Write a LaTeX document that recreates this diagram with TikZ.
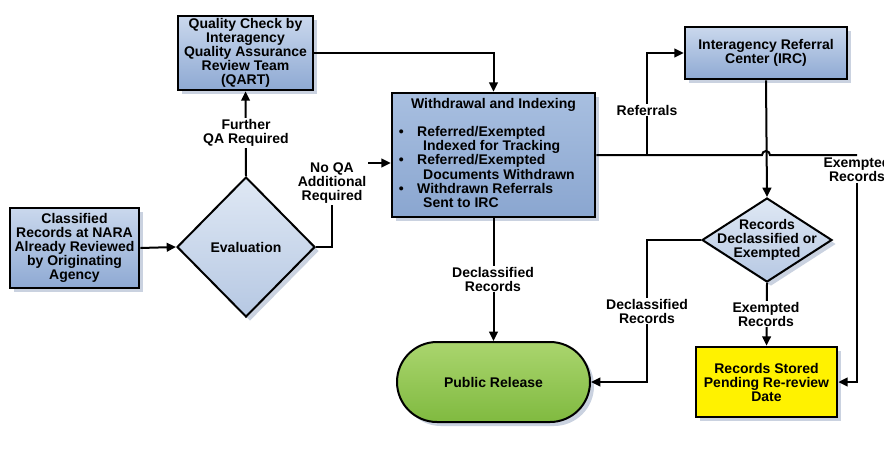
\documentclass[tikz,border=0pt]{standalone}
\usepackage{fontspec}
\setmainfont{Liberation Sans}
\usetikzlibrary{arrows.meta,shapes.geometric,shapes.misc,shadows}

\definecolor{boxtop}{RGB}{202,216,237}
\definecolor{boxbot}{RGB}{142,169,211}
\definecolor{wdtop}{RGB}{168,191,224}
\definecolor{wdbot}{RGB}{138,166,208}
\definecolor{dectop}{RGB}{223,232,244}
\definecolor{decbot}{RGB}{182,200,227}
\definecolor{reltop}{RGB}{170,213,110}
\definecolor{relbot}{RGB}{128,186,64}
\definecolor{shadowgrey}{RGB}{196,205,221}

\tikzset{every picture/.style={line width=0.75pt}}
\tikzset{
  txt/.style={font=\bfseries\fontsize{10.5}{10.5}\selectfont, align=center},
  shadowed/.style={drop shadow={shadow xshift=3pt, shadow yshift=-3pt, fill=shadowgrey, opacity=0.9}},
  box/.style={txt, shadowed, draw=black, line width=2pt, inner sep=0pt, top color=boxtop, bottom color=boxbot},
  wdbox/.style={box, top color=wdtop, bottom color=wdbot},
  decision/.style={txt, shadowed, diamond, draw=black, line width=1.5pt, inner sep=0pt, top color=dectop, bottom color=decbot},
  terminal/.style={txt, shadowed, rounded rectangle, draw=black, line width=1.5pt, inner sep=0pt, top color=reltop, bottom color=relbot},
  stored/.style={txt, shadowed, draw=black, line width=2pt, inner sep=0pt, fill=yellow},
  line/.style={line width=1.5pt},
  flow/.style={line width=1.5pt, -{Triangle[length=7pt,width=6.5pt]}},
  lbl/.style={txt, fill=white, inner sep=1pt}
}

\begin{document}
\begin{tikzpicture}[x=0.75pt,y=0.75pt,yscale=-1,xscale=1]
\useasboundingbox (0,0) rectangle (884,468);
\clip (0,0) rectangle (884,468);

%Shape: Rectangle [Classified Records]
\node[box, minimum width=96.75pt, minimum height=60pt] (classified) at (74.5,248)
  {Classified\\Records at NARA\\Already Reviewed\\by Originating\\Agency};
%Shape: Diamond [Evaluation]
\node[decision, minimum width=103.5pt, minimum height=105pt] (eval) at (246,247) {Evaluation};
%Shape: Rectangle [QART]
\node[box, minimum width=101.25pt, minimum height=55.5pt] (qart) at (245.5,53)
  {Quality Check by\\Interagency\\Quality Assurance\\Review Team\\(QART)};
%Shape: Rectangle [Withdrawal and Indexing]
\node[wdbox, minimum width=152.25pt, minimum height=93pt] (withdraw) at (493.5,155)
  {Withdrawal and Indexing\\[10.5pt]
   \begin{tabular}[t]{@{}l@{\hspace{10pt}}l@{\hspace{10pt}}}
   \textbullet & Referred/Exempted\\
               & \hspace{4.5pt}Indexed for Tracking\\
   \textbullet & Referred/Exempted\\
               & \hspace{4.5pt}Documents Withdrawn\\
   \textbullet & Withdrawn Referrals\\
               & \hspace{4.5pt}Sent to IRC
   \end{tabular}};
%Shape: Rectangle [IRC]
\node[box, minimum width=121.5pt, minimum height=39pt] (irc) at (766,53)
  {Interagency Referral\\Center (IRC)};
%Shape: Diamond [Declassified or Exempted]
\node[decision, inner sep=-30pt, minimum width=97.5pt, minimum height=63pt] (decl) at (767,240)
  {Records\\Declassified or\\Exempted};
%Shape: Rounded Rectangle [Public Release]
\node[terminal, minimum width=144.75pt, minimum height=60pt] (release) at (493.5,382) {Public Release};
%Shape: Rectangle [Records Stored]
\node[stored, minimum width=105.75pt, minimum height=52.5pt] (store) at (766.5,382)
  {Records Stored\\Pending Re-review\\Date};

\coordinate (noqa) at (332,163);
\coordinate (branch) at (647,155);
\coordinate (exend) at (857,155);
\coordinate (declx) at (647,311);

%Straight Lines
\draw[flow] (classified.east) -- (eval.west);
\draw[flow] (eval.north) -- (qart.south);
\draw[flow] (eval.east) -| (noqa) -- (noqa -| withdraw.west);
\draw[flow] (qart.east) -| (withdraw.north);
\draw[line] (withdraw.east) -- (762,155) arc (180:360:4) -- (exend);
\draw[flow] (branch) |- (irc.west);
\draw[flow] (irc.south) -- (decl.north);
\draw[flow] (withdraw.south) -- (release.north);
\draw[flow] (decl.west) -| (declx) |- (release.east);
\draw[flow] (decl.south) -- (store.north);

% Text Node
\node[lbl] (furtherqa) at (246,133) {Further\\QA Required};
% Text Node
\node[lbl] (noqalbl) at (332,183) {No QA\\Additional\\Required};
% Text Node
\node[lbl] (referrals) at (647,110) {Referrals};
% Text Node
\node[lbl] (declrec) at (493,279) {Declassified\\Records};
% Text Node
\node[lbl] (declrec2) at (647,311) {Declassified\\Records};
% Text Node
\node[lbl] (exrec) at (766,314) {Exempted\\Records};
% Text Node
\node[txt, inner sep=1pt] (exrec2) at (857,169) {Exempted\\Records};
\draw[flow] (exrec2.south) |- (store.east);

\end{tikzpicture}
\end{document}
